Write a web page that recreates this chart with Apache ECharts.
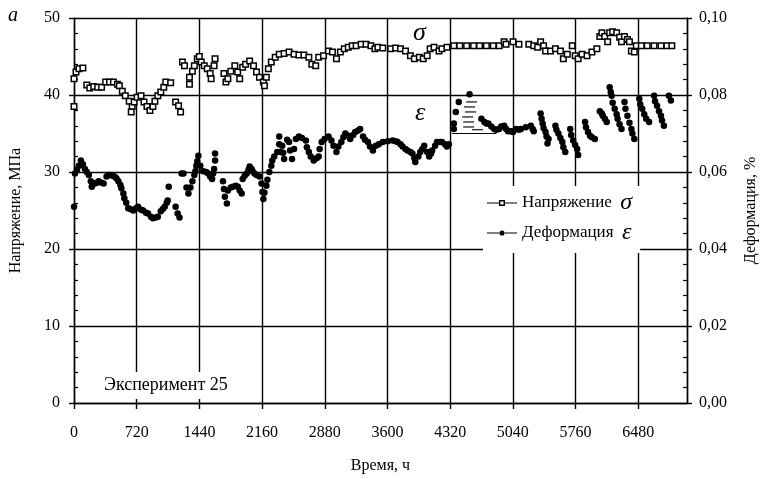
<!DOCTYPE html>
<html>
<head>
<meta charset="utf-8">
<script src="https://cdn.jsdelivr.net/npm/echarts@6/dist/echarts.min.js"></script>
<style>
  html, body { margin: 0; padding: 0; background: #fff; }
  #main { width: 767px; height: 479px; }
</style>
</head>
<body>
<div id="main"></div>
<script>
// stress, MPa (left axis)
var sigmaTime = [0, 0, 23, 57, 102, 147, 181, 227, 272, 317, 363, 408, 453, 499, 521, 555, 589, 634, 668, 657,
  691, 725, 770, 804, 838, 872, 906, 929, 963, 997, 1031, 1054, 1110, 1167, 1201, 1224, 1246, 1269, 1326, 1326,
  1360, 1382, 1416, 1439, 1462, 1496, 1530, 1564, 1575, 1609, 1620, 1722, 1745, 1767, 1801, 1847, 1880, 1903, 1937, 1971,
  2017, 2062, 2096, 2130, 2175, 2187, 2209, 2232, 2266, 2311, 2357, 2413, 2470, 2527, 2583, 2640, 2697, 2731, 2776, 2810,
  2866, 2923, 2968, 3014, 3059, 3104, 3150, 3195, 3240, 3297, 3354, 3410, 3456, 3490, 3546, 3637, 3694, 3750, 3807, 3864,
  3909, 3966, 4011, 4056, 4090, 4135, 4192, 4226, 4283, 4362, 4430, 4509, 4589, 4657, 4736, 4815, 4883, 4940, 4962, 5042,
  5110, 5223, 5280, 5325, 5359, 5393, 5416, 5472, 5529, 5586, 5620, 5665, 5722, 5756, 5790, 5835, 5892, 5948, 6005, 6039,
  6062, 6095, 6129, 6152, 6186, 6232, 6266, 6288, 6322, 6356, 6379, 6401, 6435, 6458, 6515, 6583, 6662, 6741, 6809, 6866];
var sigmaValue = [38.5, 42.1, 43.0, 43.4, 43.5, 41.3, 40.9, 41.1, 41.0, 41.0, 41.7, 41.7, 41.7, 41.4, 41.2, 40.5, 39.9, 39.2, 38.5, 37.8,
  39.1, 39.7, 39.9, 39.1, 38.5, 38.0, 38.5, 39.2, 39.9, 40.4, 41.0, 41.7, 41.6, 39.1, 38.6, 37.8, 44.3, 43.8, 42.3, 41.4,
  43.1, 43.8, 44.7, 45.0, 44.3, 43.8, 43.4, 42.8, 42.1, 43.8, 44.7, 42.8, 41.7, 42.1, 43.1, 43.8, 43.0, 42.1, 43.6, 44.0,
  44.4, 43.8, 43.0, 42.3, 41.7, 41.2, 42.3, 43.4, 44.3, 44.9, 45.3, 45.4, 45.6, 45.3, 45.2, 45.2, 44.9, 44.0, 43.8, 44.9,
  45.1, 45.7, 45.6, 44.7, 45.6, 46.0, 46.2, 46.4, 46.4, 46.6, 46.6, 46.4, 46.0, 46.2, 46.1, 46.0, 46.1, 46.0, 45.7, 45.1,
  44.7, 44.9, 44.7, 45.1, 46.0, 46.2, 45.7, 46.0, 46.2, 46.4, 46.4, 46.4, 46.4, 46.4, 46.4, 46.4, 46.4, 46.9, 46.6, 46.9,
  46.6, 46.6, 46.4, 46.2, 46.9, 46.4, 45.7, 45.7, 46.0, 45.7, 44.7, 45.3, 46.4, 45.1, 44.7, 45.3, 45.1, 45.6, 46.0, 47.6,
  48.1, 47.6, 46.9, 48.1, 48.2, 48.1, 47.5, 46.9, 47.6, 47.2, 46.9, 45.7, 45.6, 46.4, 46.4, 46.4, 46.4, 46.4, 46.4, 46.4];

// deformation, % (right axis)
var epsTime = [0, 11, 34, 57, 79, 102, 125, 147, 170, 193, 204, 238, 261, 283, 317, 340, 374, 397, 419, 442,
  465, 487, 510, 533, 544, 567, 578, 600, 623, 646, 680, 714, 736, 770, 793, 827, 850, 884, 906, 940,
  963, 997, 1020, 1042, 1065, 1076, 1088, 1167, 1190, 1212, 1235, 1258, 1292, 1314, 1337, 1360, 1382, 1394, 1405, 1416,
  1428, 1450, 1484, 1518, 1541, 1564, 1586, 1598, 1609, 1620, 1620, 1711, 1722, 1733, 1756, 1767, 1801, 1824, 1858, 1881,
  1903, 1926, 1937, 1960, 1983, 2005, 2017, 2039, 2051, 2073, 2096, 2130, 2153, 2164, 2175, 2187, 2209, 2221, 2243, 2266,
  2277, 2300, 2334, 2357, 2357, 2368, 2391, 2402, 2413, 2447, 2470, 2481, 2504, 2527, 2549, 2583, 2617, 2663, 2674, 2697,
  2719, 2753, 2787, 2810, 2821, 2844, 2878, 2923, 2957, 2980, 3014, 3036, 3070, 3093, 3116, 3150, 3172, 3206, 3229, 3263,
  3286, 3320, 3342, 3376, 3399, 3433, 3467, 3501, 3546, 3603, 3660, 3694, 3716, 3750, 3773, 3807, 3830, 3864, 3886, 3909,
  3920, 3954, 3977, 4000, 4022, 4056, 4079, 4101, 4113, 4147, 4169, 4203, 4226, 4260, 4283, 4305, 4362, 4362, 4385, 4419,
  4543, 4679, 4713, 4736, 4759, 4793, 4827, 4849, 4883, 4906, 4940, 4963, 4985, 5019, 5042, 5076, 5110, 5132, 5189, 5246,
  5268, 5280, 5359, 5370, 5382, 5393, 5416, 5427, 5438, 5450, 5529, 5540, 5563, 5586, 5608, 5620, 5642, 5699, 5710, 5733,
  5756, 5778, 5790, 5869, 5880, 5903, 5926, 5948, 5982, 6039, 6062, 6073, 6096, 6118, 6152, 6164, 6175, 6186, 6209, 6232,
  6243, 6265, 6288, 6322, 6333, 6356, 6379, 6401, 6413, 6435, 6492, 6503, 6526, 6549, 6571, 6605, 6662, 6673, 6696, 6719,
  6741, 6753, 6775, 6832, 6855];
var epsValue = [0.0510, 0.0596, 0.0606, 0.0616, 0.0630, 0.0620, 0.0608, 0.0600, 0.0592, 0.0576, 0.0562, 0.0570, 0.0572, 0.0576, 0.0572, 0.0570, 0.0588, 0.0592, 0.0592, 0.0590,
  0.0588, 0.0584, 0.0576, 0.0566, 0.0558, 0.0544, 0.0532, 0.0520, 0.0506, 0.0504, 0.0500, 0.0506, 0.0510, 0.0502, 0.0500, 0.0494, 0.0492, 0.0484, 0.0480, 0.0482,
  0.0484, 0.0498, 0.0504, 0.0510, 0.0520, 0.0526, 0.0562, 0.0510, 0.0492, 0.0482, 0.0596, 0.0596, 0.0560, 0.0544, 0.0560, 0.0576, 0.0592, 0.0602, 0.0616, 0.0628,
  0.0642, 0.0616, 0.0602, 0.0600, 0.0596, 0.0588, 0.0582, 0.0596, 0.0608, 0.0630, 0.0648, 0.0576, 0.0556, 0.0536, 0.0518, 0.0552, 0.0560, 0.0562, 0.0564, 0.0562,
  0.0552, 0.0544, 0.0582, 0.0590, 0.0596, 0.0606, 0.0614, 0.0608, 0.0602, 0.0596, 0.0592, 0.0588, 0.0570, 0.0548, 0.0530, 0.0546, 0.0564, 0.0580, 0.0600, 0.0616,
  0.0630, 0.0640, 0.0652, 0.0692, 0.0672, 0.0652, 0.0668, 0.0650, 0.0634, 0.0684, 0.0678, 0.0656, 0.0634, 0.0660, 0.0686, 0.0692, 0.0688, 0.0682, 0.0664, 0.0652,
  0.0640, 0.0630, 0.0636, 0.0640, 0.0660, 0.0678, 0.0686, 0.0692, 0.0682, 0.0668, 0.0652, 0.0666, 0.0678, 0.0690, 0.0700, 0.0694, 0.0686, 0.0696, 0.0704, 0.0708,
  0.0712, 0.0692, 0.0684, 0.0678, 0.0666, 0.0656, 0.0668, 0.0672, 0.0678, 0.0680, 0.0682, 0.0680, 0.0678, 0.0672, 0.0666, 0.0660, 0.0656, 0.0652, 0.0648, 0.0636,
  0.0626, 0.0640, 0.0652, 0.0660, 0.0668, 0.0652, 0.0640, 0.0648, 0.0656, 0.0668, 0.0678, 0.0678, 0.0678, 0.0672, 0.0666, 0.0672, 0.0726, 0.0712, 0.0756, 0.0782,
  0.0802, 0.0738, 0.0730, 0.0726, 0.0726, 0.0718, 0.0712, 0.0710, 0.0712, 0.0718, 0.0720, 0.0712, 0.0706, 0.0706, 0.0704, 0.0712, 0.0710, 0.0712, 0.0716, 0.0720,
  0.0712, 0.0706, 0.0752, 0.0738, 0.0726, 0.0714, 0.0704, 0.0692, 0.0674, 0.0686, 0.0720, 0.0710, 0.0700, 0.0688, 0.0678, 0.0664, 0.0652, 0.0712, 0.0696, 0.0682,
  0.0670, 0.0660, 0.0644, 0.0730, 0.0716, 0.0704, 0.0694, 0.0690, 0.0686, 0.0758, 0.0752, 0.0746, 0.0738, 0.0730, 0.0820, 0.0808, 0.0798, 0.0780, 0.0764, 0.0750,
  0.0738, 0.0724, 0.0712, 0.0782, 0.0764, 0.0746, 0.0728, 0.0712, 0.0700, 0.0686, 0.0790, 0.0776, 0.0764, 0.0750, 0.0738, 0.0730, 0.0798, 0.0784, 0.0772, 0.0758,
  0.0746, 0.0734, 0.0720, 0.0798, 0.0786];

// short dashes and base line near 4320-4850 h (deformation axis)
var hatchTime = [4566, 4543, 4555, 4521, 4532, 4532, 4634];
var hatchValue = [0.0782, 0.0769, 0.0756, 0.0743, 0.0730, 0.0717, 0.0710];
var baseTime = [4340, 4850];
var baseValue = [0.0700, 0.0700];

var timeTicks = [0, 720, 1440, 2160, 2880, 3600, 4320, 5040, 5760, 6480];
var sigmaName = 'Напряжение σ';
var epsName = 'Деформация ε';

function zip(a, b) { return a.map(function (v, i) { return [v, b[i]]; }); }

var FONT = 'Liberation Serif';
var txt = { color: '#000', fontFamily: FONT, fontSize: 16 };
var gridLine = { show: true, lineStyle: { color: '#000', width: 1.4 } };

var sigmaIcon = 'path://M0 3.5H12V4.5H0Z M18 3.5H30V4.5H18Z M12 1H18V7H12Z M13.4 2.4V5.6H16.6V2.4Z';
var epsIcon = 'path://M0 3.5H12V4.5H0Z M18 3.5H30V4.5H18Z M17.6 4A2.6 2.6 0 1 1 12.4 4A2.6 2.6 0 1 1 17.6 4Z M0 1H0.01V7H0Z';

var myChart = echarts.init(document.getElementById('main'));

var option = {
  animation: false,
  backgroundColor: '#fff',
  grid: { left: 72, right: 74, top: 18, bottom: 74 },
  legend: {
    orient: 'vertical',
    left: 483,
    top: 186,
    backgroundColor: '#fff',
    padding: [5, 8, 8, 4],
    itemGap: 6,
    itemWidth: 30,
    itemHeight: 8,
    data: [
      { name: sigmaName, icon: sigmaIcon, itemStyle: { color: '#000', borderWidth: 0 } },
      { name: epsName, icon: epsIcon, itemStyle: { color: '#000', borderWidth: 0 } }
    ],
    formatter: function (name) {
      var parts = name.split(' ');
      return '{t|' + parts[0] + '}  {g|' + parts[1] + '}';
    },
    textStyle: {
      color: '#000', fontFamily: FONT, fontSize: 17,
      rich: {
        t: { fontFamily: FONT, fontSize: 17, color: '#000' },
        g: { fontFamily: FONT, fontSize: 24, fontStyle: 'italic', color: '#000' }
      }
    }
  },
  xAxis: {
    type: 'value', min: 0, max: 7040, interval: 720,
    name: 'Время, ч', nameLocation: 'middle', nameGap: 55,
    nameTextStyle: { color: '#000', fontFamily: FONT, fontSize: 16 },
    axisLine: { lineStyle: { color: '#000', width: 1.4 } },
    axisTick: { length: 6, lineStyle: { color: '#000', width: 1.4 } },
    axisLabel: {
      color: '#000', fontFamily: FONT, fontSize: 16, margin: 22, showMaxLabel: false,
      formatter: function (v) { return timeTicks.indexOf(v) >= 0 ? String(v) : ''; }
    },
    splitLine: gridLine
  },
  yAxis: [
    {
      type: 'value', position: 'left', min: 0, max: 50, interval: 10,
      name: 'Напряжение, МПа', nameLocation: 'middle', nameGap: 50, nameRotate: 90,
      nameTextStyle: { color: '#000', fontFamily: FONT, fontSize: 16 },
      axisLine: { show: true, lineStyle: { color: '#000', width: 1.4 } },
      axisTick: { show: true, inside: true, length: 4, lineStyle: { color: '#000' } },
      minorTick: { show: true, splitNumber: 5, length: 4, lineStyle: { color: '#000', width: 1.2 } },
      axisLabel: Object.assign({ margin: 14 }, txt),
      splitLine: gridLine
    },
    {
      type: 'value', position: 'right', min: 0, max: 0.1, interval: 0.02,
      name: 'Деформация, %', nameLocation: 'middle', nameGap: 56, nameRotate: 90,
      nameTextStyle: { color: '#000', fontFamily: FONT, fontSize: 16 },
      axisLine: { show: true, lineStyle: { color: '#000', width: 1.4 } },
      axisTick: { show: true, inside: true, length: 4, lineStyle: { color: '#000' } },
      minorTick: { show: true, splitNumber: 5, length: 4, lineStyle: { color: '#000', width: 1.2 } },
      axisLabel: Object.assign({
        margin: 12,
        formatter: function (v) { return v.toFixed(2).replace('.', ','); }
      }, txt),
      splitLine: { show: false }
    },
    {
      type: 'value', position: 'left', min: 0, max: 50, interval: 10,
      axisLine: { show: false }, axisLabel: { show: false }, splitLine: { show: false },
      axisTick: { show: true, length: 5, lineStyle: { color: '#000', width: 1.4 } }
    },
    {
      type: 'value', position: 'right', min: 0, max: 0.1, interval: 0.02,
      axisLine: { show: false }, axisLabel: { show: false }, splitLine: { show: false },
      axisTick: { show: true, length: 5, lineStyle: { color: '#000', width: 1.4 } }
    }
  ],
  graphic: [
    { type: 'text', left: 8, top: 6, z: 10, style: { text: 'a', font: 'italic 20px "Liberation Serif"', fill: '#000' } },
    { type: 'text', left: 413, top: 20, z: 10, style: { text: 'σ', font: 'italic 26px "Liberation Serif"', fill: '#000' } },
    { type: 'text', left: 415, top: 100, z: 10, style: { text: 'ε', font: 'italic 26px "Liberation Serif"', fill: '#000' } },
    {
      type: 'text', left: 101, top: 372, z: 10,
      style: { text: 'Эксперимент 25', font: '18px "Liberation Serif"', fill: '#000', backgroundColor: '#fff', padding: [4, 3, 5, 3] }
    }
  ],
  series: [
    {
      name: sigmaName, type: 'scatter', xAxisIndex: 0, yAxisIndex: 0,
      data: zip(sigmaTime, sigmaValue),
      symbol: 'rect', symbolSize: 5.5,
      itemStyle: { color: '#fff', borderColor: '#000', borderWidth: 1.5, opacity: 1 },
      z: 3
    },
    {
      name: epsName, type: 'scatter', xAxisIndex: 0, yAxisIndex: 1,
      data: zip(epsTime, epsValue),
      symbol: 'circle', symbolSize: 6.5,
      itemStyle: { color: '#000', opacity: 1 },
      z: 4
    },
    {
      name: 'hatch', type: 'scatter', yAxisIndex: 1,
      data: zip(hatchTime, hatchValue),
      symbol: 'rect', symbolSize: [11, 1.4],
      itemStyle: { color: '#000' }, silent: true
    },
    {
      name: 'base', type: 'line', yAxisIndex: 1,
      data: zip(baseTime, baseValue),
      symbol: 'none', lineStyle: { color: '#000', width: 1.2 }, silent: true
    }
  ]
};

myChart.setOption(option);
</script>
</body>
</html>
